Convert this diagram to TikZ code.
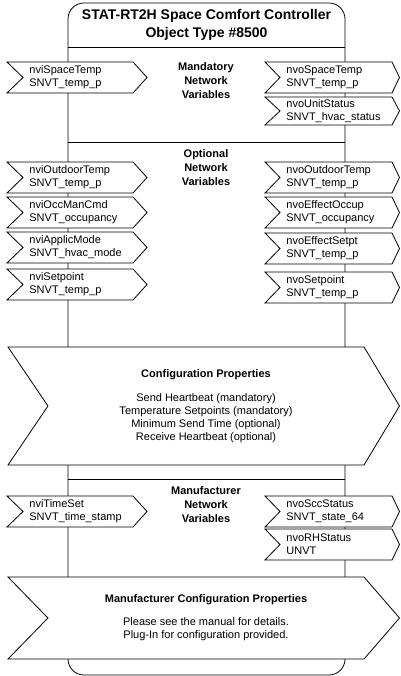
\documentclass[tikz,border=0pt]{standalone}
\usepackage{fontspec}
\setmainfont{Liberation Sans}
\tikzset{
  nvtext/.style={anchor=west, align=left, inner sep=0pt, font=\fontsize{11}{13}\selectfont},
  header/.style={align=center, inner sep=0pt, font=\fontsize{11}{14}\selectfont\bfseries},
  cptext/.style={align=center, inner sep=0pt, font=\fontsize{11}{13}\selectfont},
  chevron/.style={draw, fill=white, line width=0.8pt, line join=miter},
}
% input variable (left) and output variable (right)
\newcommand{\nvin}[4][31]{%
  \draw[chevron] (7,#2) -- (133,#2) -- (147,#2+#1/2) -- (133,#2+#1) -- (7,#2+#1) -- (23,#2+#1/2) -- cycle;
  \node[nvtext] (#3) at (29,#2+#1/2) {#4};}
\newcommand{\nvout}[4][31]{%
  \draw[chevron] (265,#2) -- (392,#2) -- (399.5,#2+#1/2) -- (392,#2+#1) -- (265,#2+#1) -- (280,#2+#1/2) -- cycle;
  \node[nvtext] (#3) at (286,#2+#1/2) {#4};}
\begin{document}
\begin{tikzpicture}[x=1pt, y=-1pt, line width=0.8pt]
    \useasboundingbox (0,0) rectangle (400,676);
    % object box
    \draw[rounded corners=16] (68,3) rectangle (345,675);
    \draw (68,47) -- (345,47);
    \draw (68,142) -- (345,142);
    \draw (68,479) -- (345,479);
    \node[header, font=\fontsize{14}{18}\selectfont\bfseries] (title) at (206.5,25)
        {STAT-RT2H Space Comfort Controller\\Object Type \#8500};

    % mandatory
    \node[header] (mandatory) at (206,81) {Mandatory\\Network\\Variables};
    \nvin{62}{spacetempin}{nviSpaceTemp\\SNVT\_temp\_p}
    \nvout{62}{spacetempout}{nvoSpaceTemp\\SNVT\_temp\_p}
    \nvout[28]{97}{unitstatus}{nvoUnitStatus\\SNVT\_hvac\_status}

    % optional
    \node[header] (optional) at (206,168) {Optional\\Network\\Variables};
    \nvin{162}{outdoorin}{nviOutdoorTemp\\SNVT\_temp\_p}
    \nvin{197}{occmancmd}{nviOccManCmd\\SNVT\_occupancy}
    \nvin{232}{applicmode}{nviApplicMode\\SNVT\_hvac\_mode}
    \nvin{269}{setpointin}{nviSetpoint\\SNVT\_temp\_p}
    \nvout{162}{outdoorout}{nvoOutdoorTemp\\SNVT\_temp\_p}
    \nvout{197}{effectoccup}{nvoEffectOccup\\SNVT\_occupancy}
    \nvout{233}{effectsetpt}{nvoEffectSetpt\\SNVT\_temp\_p}
    \nvout{272}{setpointout}{nvoSetpoint\\SNVT\_temp\_p}

    % configuration properties
    \draw[chevron] (8,347) -- (364,347) -- (399.5,406) -- (364,465) -- (8,465) -- (48,406) -- cycle;
    \node[header] (cfgtitle) at (206,375) {Configuration Properties};
    \node[cptext] (cfglist) at (206,418.5) {Send Heartbeat (mandatory)\\Temperature Setpoints (mandatory)\\Minimum Send Time (optional)\\Receive Heartbeat (optional)};

    % manufacturer
    \node[header] (manufacturer) at (206,505) {Manufacturer\\Network\\Variables};
    \nvin{496}{timeset}{nviTimeSet\\SNVT\_time\_stamp}
    \nvout{496}{sccstatus}{nvoSccStatus\\SNVT\_state\_64}
    \nvout{529}{rhstatus}{nvoRHStatus\\UNVT}

    \draw[chevron] (8,577) -- (364,577) -- (399.5,618) -- (364,659) -- (8,659) -- (48,618) -- cycle;
    \node[header] (mfrtitle) at (206,600) {Manufacturer Configuration Properties};
    \node[cptext] (mfrtext) at (206,629.5) {Please see the manual for details.\\Plug-In for configuration provided.};
\end{tikzpicture}
\end{document}
